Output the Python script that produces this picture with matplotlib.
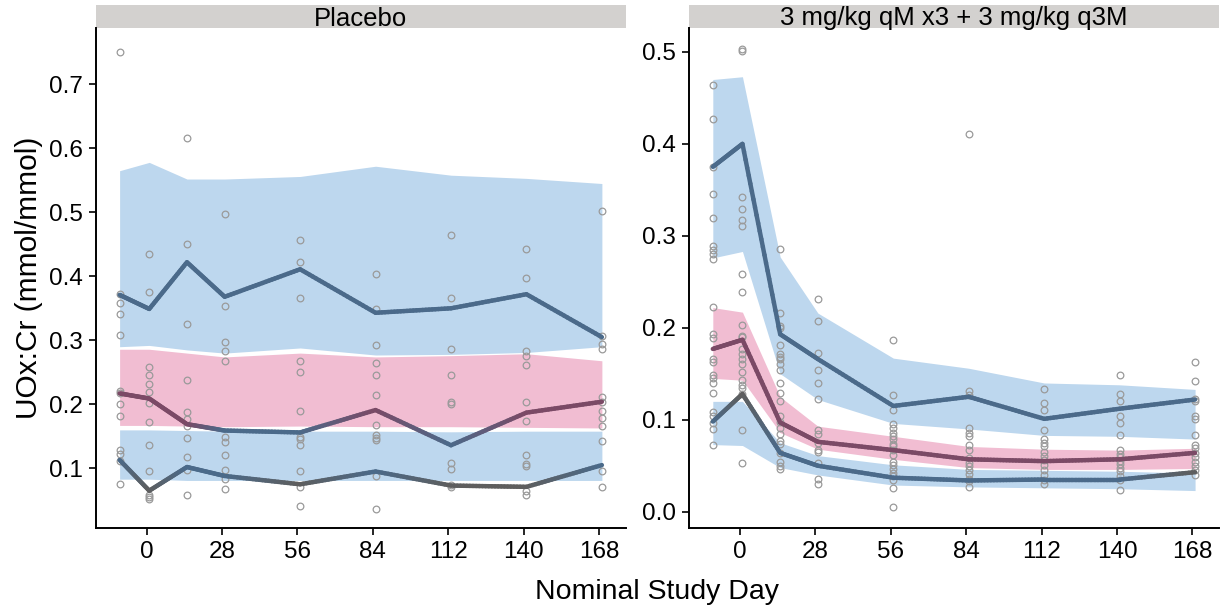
import numpy as np
import matplotlib
matplotlib.use("Agg")
import matplotlib.pyplot as plt
from matplotlib.collections import LineCollection
from matplotlib.patches import Rectangle
from matplotlib.colors import to_rgb

plt.rcParams['font.family'] = ['Liberation Sans', 'DejaVu Sans']

# === Данные ===
days = [-10, 1, 15, 29, 57, 85, 113, 141, 169]
panel_titles = ["Placebo", "3 mg/kg qM x3 + 3 mg/kg q3M"]
x_ticks = [0, 28, 56, 84, 112, 140, 168]

# Placebo: simulated bands (low / high) and observed percentiles
pbo_up_lo = [0.290, 0.292, 0.285, 0.280, 0.288, 0.277, 0.278, 0.281, 0.290]
pbo_up_hi = [0.565, 0.578, 0.552, 0.552, 0.556, 0.572, 0.558, 0.553, 0.545]
pbo_md_lo = [0.167, 0.167, 0.166, 0.165, 0.166, 0.165, 0.165, 0.164, 0.163]
pbo_md_hi = [0.286, 0.286, 0.280, 0.274, 0.280, 0.274, 0.276, 0.279, 0.268]
pbo_lo_lo = [0.083, 0.083, 0.081, 0.081, 0.081, 0.081, 0.081, 0.081, 0.081]
pbo_lo_hi = [0.160, 0.160, 0.159, 0.158, 0.158, 0.158, 0.157, 0.158, 0.158]
pbo_obs_up = [0.371, 0.349, 0.422, 0.368, 0.411, 0.343, 0.350, 0.372, 0.305]
pbo_obs_md = [0.217, 0.209, 0.169, 0.159, 0.156, 0.191, 0.136, 0.187, 0.204]
pbo_obs_lo = [0.113, 0.065, 0.102, 0.088, 0.075, 0.095, 0.073, 0.071, 0.105]
pbo_points = [
    [0.751, 0.372, 0.359, 0.341, 0.308, 0.221, 0.217, 0.200, 0.181, 0.129, 0.122, 0.112, 0.075],
    [0.435, 0.375, 0.258, 0.245, 0.231, 0.219, 0.202, 0.172, 0.136, 0.095, 0.059, 0.055, 0.052],
    [0.616, 0.451, 0.326, 0.238, 0.188, 0.177, 0.166, 0.147, 0.117, 0.098, 0.058],
    [0.497, 0.354, 0.298, 0.284, 0.267, 0.149, 0.141, 0.120, 0.098, 0.084, 0.068],
    [0.456, 0.422, 0.366, 0.267, 0.251, 0.189, 0.149, 0.145, 0.136, 0.095, 0.070, 0.041],
    [0.403, 0.349, 0.292, 0.264, 0.245, 0.215, 0.168, 0.152, 0.148, 0.144, 0.088, 0.037],
    [0.464, 0.366, 0.287, 0.245, 0.204, 0.200, 0.108, 0.099, 0.074, 0.070],
    [0.442, 0.397, 0.284, 0.276, 0.261, 0.203, 0.174, 0.120, 0.106, 0.103, 0.064, 0.058],
    [0.502, 0.307, 0.294, 0.286, 0.211, 0.204, 0.190, 0.179, 0.166, 0.143, 0.096, 0.071],
]

# 3 mg/kg
trt_up_lo = [0.276, 0.283, 0.150, 0.122, 0.096, 0.090, 0.083, 0.082, 0.079]
trt_up_hi = [0.470, 0.473, 0.277, 0.216, 0.167, 0.156, 0.140, 0.138, 0.133]
trt_md_lo = [0.145, 0.143, 0.086, 0.068, 0.057, 0.048, 0.046, 0.046, 0.047]
trt_md_hi = [0.222, 0.217, 0.125, 0.093, 0.082, 0.071, 0.068, 0.067, 0.069]
trt_lo_lo = [0.073, 0.072, 0.048, 0.040, 0.029, 0.027, 0.026, 0.025, 0.023]
trt_lo_hi = [0.120, 0.120, 0.075, 0.061, 0.051, 0.046, 0.045, 0.044, 0.042]
trt_obs_up = [0.375, 0.400, 0.193, 0.166, 0.115, 0.125, 0.101, 0.112, 0.122]
trt_obs_md = [0.177, 0.187, 0.097, 0.076, 0.067, 0.057, 0.055, 0.057, 0.064]
trt_obs_lo = [0.098, 0.128, 0.064, 0.050, 0.037, 0.034, 0.035, 0.035, 0.043]
trt_points = [
    [0.464, 0.427, 0.375, 0.345, 0.319, 0.289, 0.285, 0.280, 0.275, 0.223, 0.193, 0.189,
     0.166, 0.163, 0.149, 0.145, 0.140, 0.129, 0.108, 0.104, 0.097, 0.090, 0.073],
    [0.503, 0.501, 0.342, 0.329, 0.317, 0.311, 0.258, 0.239, 0.203, 0.191, 0.190, 0.177,
     0.171, 0.166, 0.161, 0.152, 0.143, 0.138, 0.134, 0.128, 0.089, 0.053],
    [0.286, 0.216, 0.202, 0.200, 0.181, 0.171, 0.168, 0.166, 0.161, 0.154, 0.140, 0.129,
     0.120, 0.104, 0.098, 0.091, 0.085, 0.077, 0.074, 0.064, 0.054, 0.050, 0.046],
    [0.231, 0.207, 0.173, 0.154, 0.140, 0.123, 0.089, 0.085, 0.075, 0.067, 0.065, 0.053,
     0.036, 0.030],
    [0.187, 0.127, 0.111, 0.095, 0.091, 0.086, 0.082, 0.079, 0.074, 0.071, 0.067, 0.062,
     0.054, 0.051, 0.047, 0.042, 0.039, 0.035, 0.026, 0.005],
    [0.411, 0.131, 0.127, 0.091, 0.086, 0.082, 0.073, 0.067, 0.058, 0.053, 0.050, 0.045,
     0.041, 0.036, 0.033, 0.027],
    [0.133, 0.118, 0.111, 0.089, 0.079, 0.075, 0.071, 0.065, 0.061, 0.056, 0.051, 0.045,
     0.040, 0.034, 0.030],
    [0.149, 0.128, 0.120, 0.104, 0.097, 0.083, 0.067, 0.063, 0.059, 0.055, 0.052, 0.048,
     0.044, 0.039, 0.034, 0.024],
    [0.163, 0.142, 0.123, 0.120, 0.104, 0.101, 0.083, 0.073, 0.069, 0.064, 0.059, 0.054,
     0.050, 0.045, 0.040],
]

# === Стиль ===
BLUE_BAND = "#BDD7EE"
PINK_BAND = "#F1BDD2"
BLUE_LINE = "#4B6A8A"
PLUM_LINE = "#7B4A66"
GREY_LINE = "#5E5E5E"
POINT_EDGE = "#9A9A9A"
STRIP = "#D3D1CF"


def grad_line(ax, x, y, lo, hi, c_in, c_out, n=24):
    # colour follows whether the observed value falls inside the band
    inside = [(a >= l) and (a <= h) for a, l, h in zip(y, lo, hi)]
    rgb = np.array([to_rgb(c_in if f else c_out) for f in inside])
    segs, cols = [], []
    for i in range(len(x) - 1):
        t = np.linspace(0, 1, n + 1)
        xs = x[i] + (x[i + 1] - x[i]) * t
        ys = y[i] + (y[i + 1] - y[i]) * t
        for j in range(n):
            segs.append([(xs[j], ys[j]), (xs[j + 1], ys[j + 1])])
            tm = (t[j] + t[j + 1]) / 2
            cols.append(rgb[i] + (rgb[i + 1] - rgb[i]) * tm)
    lc = LineCollection(segs, colors=cols, linewidths=3.2, capstyle='round',
                        joinstyle='round', zorder=4)
    ax.add_collection(lc)


panels = [
    dict(up=(pbo_up_lo, pbo_up_hi), md=(pbo_md_lo, pbo_md_hi), lo=(pbo_lo_lo, pbo_lo_hi),
         obs=(pbo_obs_up, pbo_obs_md, pbo_obs_lo), pts=pbo_points,
         ylim=(0.0067, 0.788), yticks=[0.1, 0.2, 0.3, 0.4, 0.5, 0.6, 0.7]),
    dict(up=(trt_up_lo, trt_up_hi), md=(trt_md_lo, trt_md_hi), lo=(trt_lo_lo, trt_lo_hi),
         obs=(trt_obs_up, trt_obs_md, trt_obs_lo), pts=trt_points,
         ylim=(-0.0177, 0.526), yticks=[0.0, 0.1, 0.2, 0.3, 0.4, 0.5]),
]

W, H = 1225, 613
fig = plt.figure(figsize=(W / 100, H / 100), dpi=100)
ax_left_px = [95.5, 688.7]
ax_w_px = 530.5
ax_top_px, ax_bot_px = 28, 528

for k, p in enumerate(panels):
    ax = fig.add_axes([ax_left_px[k] / W, (H - ax_bot_px) / H, ax_w_px / W,
                       (ax_bot_px - ax_top_px) / H])
    # bands
    ax.fill_between(days, p['up'][0], p['up'][1], color=BLUE_BAND, lw=0, zorder=1)
    ax.fill_between(days, p['md'][0], p['md'][1], color=PINK_BAND, lw=0, zorder=1)
    ax.fill_between(days, p['lo'][0], p['lo'][1], color=BLUE_BAND, lw=0, zorder=1)
    # observed points
    for d, vals in zip(days, p['pts']):
        ax.plot([d] * len(vals), vals, 'o', ms=4.8, mfc='none', mec=POINT_EDGE,
                mew=0.9, zorder=3)
    # observed percentiles
    grad_line(ax, days, p['obs'][0], p['up'][0], p['up'][1], BLUE_LINE, GREY_LINE)
    grad_line(ax, days, p['obs'][1], p['md'][0], p['md'][1], PLUM_LINE, BLUE_LINE)
    grad_line(ax, days, p['obs'][2], p['lo'][0], p['lo'][1], BLUE_LINE, GREY_LINE)

    ax.set_xlim(-18.95, 177.95)
    ax.set_ylim(*p['ylim'])
    ax.set_xticks(x_ticks)
    ax.set_yticks(p['yticks'])
    ax.set_yticklabels([f"{v:.1f}" for v in p['yticks']])
    for s in ['top', 'right']:
        ax.spines[s].set_visible(False)
    for s in ['left', 'bottom']:
        ax.spines[s].set_linewidth(1.4)
    ax.tick_params(axis='both', length=5, width=1.2, labelsize=17.5, pad=4,
                   colors='black')

    # facet strip (text clipped at the strip bottom like in ggplot output)
    strip_h = 23 / (ax_bot_px - ax_top_px)
    strip = Rectangle((0, 1), 1, strip_h, transform=ax.transAxes,
                      facecolor=STRIP, edgecolor='none', clip_on=False)
    ax.add_patch(strip)
    t = ax.text(0.5, 1 + 2.5 / (ax_bot_px - ax_top_px), panel_titles[k],
                transform=ax.transAxes, ha='center', va='baseline', fontsize=18.5)
    t.set_clip_path(strip)

fig.text(0.024, (H - (ax_top_px + ax_bot_px) / 2) / H, "UOx:Cr (mmol/mmol)",
         rotation=90, ha='center', va='center', fontsize=21.5)
fig.text(657 / W, 1 - 592 / H, "Nominal Study Day", ha='center', va='center',
         fontsize=20.5)

fig.savefig("out.png", dpi=100)
